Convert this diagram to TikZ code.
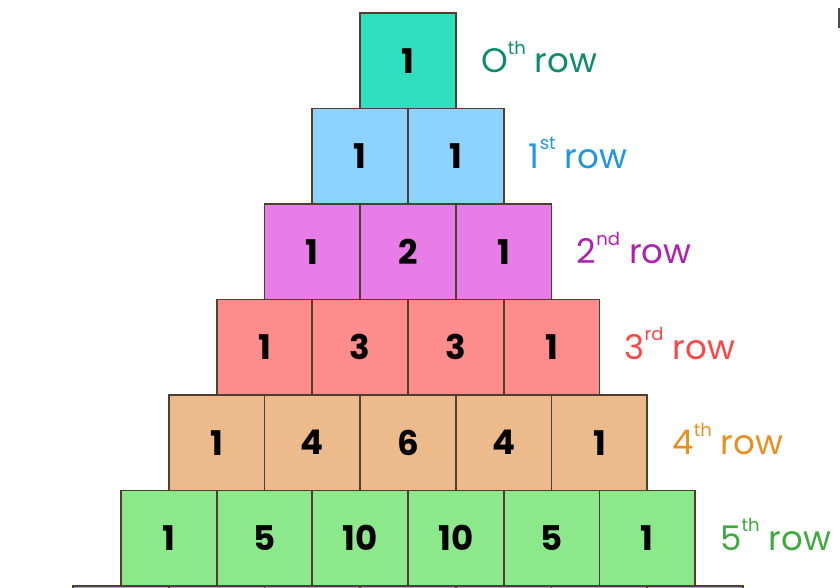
\documentclass[tikz,border=0pt]{standalone}
\usepackage{fontspec}
\setmainfont{Poppins}
\definecolor{boxline}{HTML}{4F3F2E}
\definecolor{c0}{HTML}{2EDFC0}
\definecolor{c1}{HTML}{8DD3FF}
\definecolor{c2}{HTML}{E87DE8}
\definecolor{c3}{HTML}{FF8C8C}
\definecolor{c4}{HTML}{EDBA8C}
\definecolor{c5}{HTML}{8BE88B}
\definecolor{c6}{HTML}{B5AEEA}
\definecolor{l0}{HTML}{0E8A6E}
\definecolor{l1}{HTML}{1E96E6}
\definecolor{l2}{HTML}{B020B0}
\definecolor{l3}{HTML}{FF4444}
\definecolor{l4}{HTML}{E8901E}
\definecolor{l5}{HTML}{3DAA3D}
\newcommand{\rowsup}[1]{\raisebox{0.55em}{\fontsize{18}{20}\selectfont #1}}
\begin{document}
\begin{tikzpicture}[x=1pt,y=-1pt,
  cell/.style={draw=boxline, line width=1.8pt, minimum width=95.7pt, minimum height=95.5pt,
    inner sep=0pt, outer sep=0pt, font=\fontsize{34}{40}\selectfont\bfseries},
  rowlab/.style={anchor=base west, inner sep=0pt, font=\fontsize{34}{40}\selectfont}]
\useasboundingbox (0,0) rectangle (840,588);
% partial 6th row at the bottom
\foreach \c in {0,...,6}{
  \node[cell, fill=c6] (r6c\c) at ({408-6*47.85+\c*95.7},{13+6*95.5+47.75}) {};
}
\foreach \r/\vals/\fc/\lc/\sp in {0/{1}/c0/l0/th, 1/{1,1}/c1/l1/st, 2/{1,2,1}/c2/l2/nd,
   3/{1,3,3,1}/c3/l3/rd, 4/{1,4,6,4,1}/c4/l4/th, 5/{1,5,10,10,5,1}/c5/l5/th}{
  \foreach \v [count=\c from 0] in \vals {
    \node[cell, fill=\fc] (r\r c\c) at ({408-\r*47.85+\c*95.7},{13+\r*95.5+47.75}) {\v};
  }
  \node[rowlab, text=\lc] (lab\r) at ({408+(\r+1)*47.85+25},{13+\r*95.5+47.75+12})
    {\ifnum\r=0 O\else\r\fi\rowsup{\sp} row};
}
% clipped mark at the top right edge
\fill[black!70] (837.5,8) rectangle (840,28);
\end{tikzpicture}
\end{document}
